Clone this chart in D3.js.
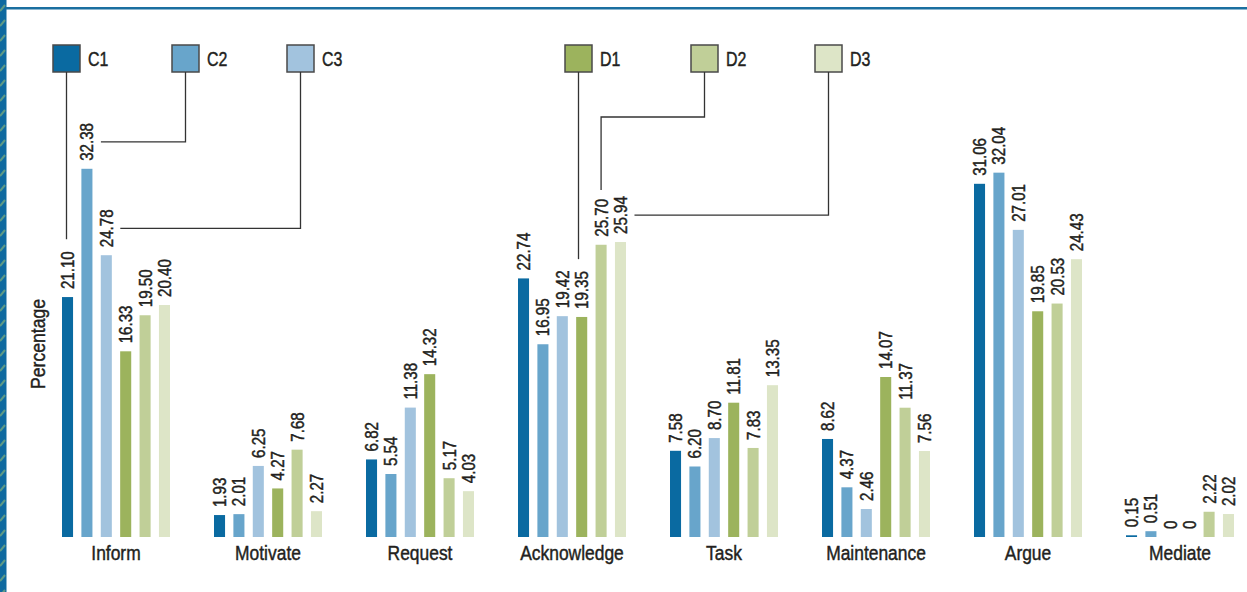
<!DOCTYPE html>
<html>
<head>
<meta charset="utf-8">
<script src="https://cdn.jsdelivr.net/npm/d3@7"></script>
<style>
  body { margin: 0; background: #fff; }
  text { fill: #231f20; stroke: #231f20; stroke-width: 0.45px; }
</style>
</head>
<body>
<div id="chart"></div>
<script>
const categories = ["Inform", "Motivate", "Request", "Acknowledge", "Task", "Maintenance", "Argue", "Mediate"];
const seriesNames = ["C1", "C2", "C3", "D1", "D2", "D3"];
const C1 = [21.10, 1.93, 6.82, 22.74, 7.58, 8.62, 31.06, 0.15];
const C2 = [32.38, 2.01, 5.54, 16.95, 6.20, 4.37, 32.04, 0.51];
const C3 = [24.78, 6.25, 11.38, 19.42, 8.70, 2.46, 27.01, 0];
const D1 = [16.33, 4.27, 14.32, 19.35, 11.81, 14.07, 19.85, 0];
const D2 = [19.50, 7.68, 5.17, 25.70, 7.83, 11.37, 20.53, 2.22];
const D3 = [20.40, 2.27, 4.03, 25.94, 13.35, 7.56, 24.43, 2.02];
const colors = ["#0a6aa1", "#68a5cb", "#a2c3de", "#9cb35d", "#c0cf98", "#dde5c7"];

const series = [C1, C2, C3, D1, D2, D3];
const width = 1247, height = 592;
const baseY = 537;

const svg = d3.select("#chart").append("svg")
  .attr("width", width)
  .attr("height", height)
  .style("font-family", "'Liberation Sans', Arial, sans-serif");

// frame: blue top rule and hatched left strip
const defs = svg.append("defs");
const pat = defs.append("pattern")
  .attr("id", "hatch")
  .attr("patternUnits", "userSpaceOnUse")
  .attr("width", 7).attr("height", 15);
pat.append("rect").attr("width", 7).attr("height", 15).attr("fill", "#0f6aa0");
pat.append("line")
  .attr("x1", 0).attr("y1", 11).attr("x2", 5).attr("y2", 5)
  .attr("stroke", "#5f9a86").attr("stroke-width", 2);
svg.append("rect").attr("x", 0).attr("y", 0).attr("width", 6.5).attr("height", height).attr("fill", "url(#hatch)");
svg.append("rect").attr("x", 6).attr("y", 7).attr("width", width).attr("height", 2.5).attr("fill", "#1a6fa0");

const x0 = d3.scaleBand()
  .domain(categories)
  .range([62, 1234])
  .paddingInner(44 / 152)
  .paddingOuter(0);

const x1 = d3.scaleBand()
  .domain(seriesNames)
  .range([0, x0.bandwidth()])
  .paddingInner(0.43)
  .paddingOuter(0);

const y = d3.scaleLinear().domain([0, 35]).range([baseY, 139]);

const rows = [];
categories.forEach((c, i) => {
  seriesNames.forEach((s, j) => {
    rows.push({ cat: c, ser: s, j: j, v: series[j][i] });
  });
});

const groups = svg.append("g").selectAll("g")
  .data(categories)
  .join("g")
  .attr("transform", d => `translate(${x0(d)},0)`);

groups.selectAll("rect")
  .data(c => rows.filter(r => r.cat === c))
  .join("rect")
  .attr("x", d => x1(d.ser))
  .attr("y", d => y(d.v))
  .attr("width", x1.bandwidth())
  .attr("height", d => baseY - y(d.v))
  .attr("fill", d => colors[d.j]);

const valScale = 0.84;
const labels = groups.selectAll("text.val")
  .data(c => rows.filter(r => r.cat === c))
  .join("text")
  .attr("class", "val")
  .attr("transform", d => `translate(${x1(d.ser) + x1.bandwidth() / 2},${y(d.v) - 8}) rotate(-90) scale(${valScale},1)`)
  .attr("dy", "0.36em")
  .style("font-size", "18px")
  .text(d => d.v === 0 ? "0" : d.v.toFixed(2));

// category axis labels
svg.append("g").selectAll("text")
  .data(categories)
  .join("text")
  .attr("transform", d => `translate(${x0(d) + x0.bandwidth() / 2},560) scale(0.83,1)`)
  .attr("text-anchor", "middle")
  .style("font-size", "21px")
  .text(d => d);

svg.append("text")
  .attr("transform", "translate(45,344) rotate(-90) scale(0.88,1)")
  .attr("text-anchor", "middle")
  .style("font-size", "20px")
  .text("Percentage");

// legend with leader lines into the Inform / Acknowledge groups
const legendX = [53, 172, 287, 565, 691, 815];
const legendTarget = ["Inform", "Inform", "Inform", "Acknowledge", "Acknowledge", "Acknowledge"];
const legendStyle = ["down", "side", "side", "down", "elbow", "side"];
const sq = 27, sqY = 45;

const legend = svg.append("g");
seriesNames.forEach((s, j) => {
  legend.append("rect")
    .attr("x", legendX[j]).attr("y", sqY)
    .attr("width", sq).attr("height", sq)
    .attr("fill", colors[j])
    .attr("stroke", "#4a4a4a").attr("stroke-width", 1.5);
  legend.append("text")
    .attr("transform", `translate(${legendX[j] + sq + 8},${sqY + sq / 2}) scale(0.76,1)`)
    .attr("dy", "0.36em")
    .style("font-size", "21px")
    .text(s);

  const ci = categories.indexOf(legendTarget[j]);
  const v = series[j][ci];
  const lbl = labels.filter(d => d.cat === legendTarget[j] && d.ser === s).node();
  const len = lbl.getComputedTextLength() * valScale;
  const bx = x0(legendTarget[j]) + x1(s) + x1.bandwidth() / 2;
  const top = y(v) - 8 - len;
  const sx = legendX[j] + sq / 2;
  let pts;
  if (legendStyle[j] === "down") {
    pts = [[sx, sqY + sq], [sx, top - 12]];
  } else if (legendStyle[j] === "side") {
    const my = top + len / 2;
    pts = [[sx, sqY + sq], [sx, my], [bx + 14, my]];
  } else {
    pts = [[sx, sqY + sq], [sx, 117], [bx, 117], [bx, top - 9]];
  }
  legend.append("path")
    .attr("d", d3.line()(pts))
    .attr("fill", "none")
    .attr("stroke", "#333")
    .attr("stroke-width", 1.3);
});
</script>
</body>
</html>
